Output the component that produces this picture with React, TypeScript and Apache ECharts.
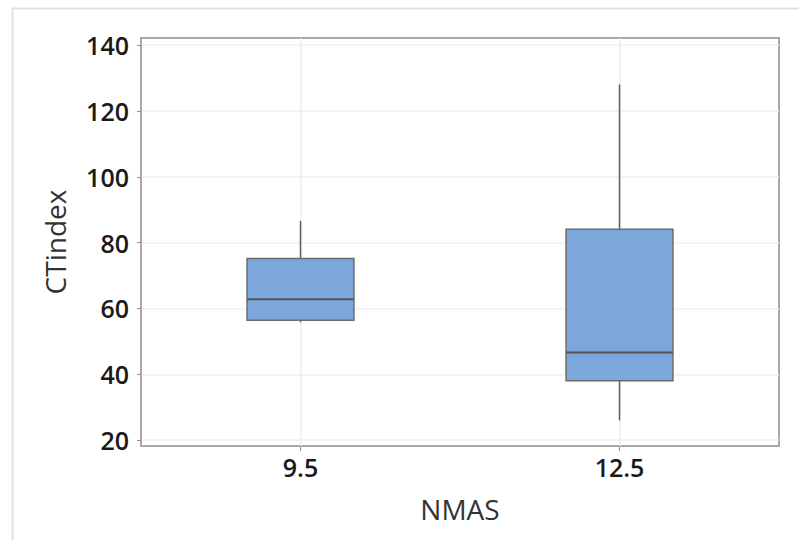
import React, { useEffect, useRef } from "react";
import * as echarts from "echarts";

const categories = ["9.5", "12.5"];
// [min, Q1, median, Q3, max]
const boxStats = [
  [55.8, 56.4, 62.8, 75.2, 86.6],
  [26.0, 38.0, 46.6, 84.1, 128.1],
];
const yTicks = [20, 40, 60, 80, 100, 120, 140];
const xTitle = "NMAS";
const yTitle = "CTindex";

export default function App() {
  const ref = useRef<HTMLDivElement>(null);
  useEffect(() => {
    if (!ref.current) return;
    const chart = echarts.init(ref.current, null, { renderer: "svg" });
    const font = "'Open Sans', 'Noto Sans', sans-serif";
    const data = boxStats.map((s, i) => [i, ...s]);
    chart.setOption({
      animation: false,
      backgroundColor: "#ffffff",
      graphic: [
        {
          type: "rect",
          left: 10,
          top: 6,
          shape: { x: 0, y: 0, width: 820, height: 600 },
          style: { fill: "none", stroke: "#e2e2e2", lineWidth: 2 },
          silent: true,
        },
      ],
      grid: {
        left: 141,
        top: 38,
        right: 20,
        bottom: 94,
        show: true,
        borderColor: "#a8a8a8",
        borderWidth: 2,
        backgroundColor: "transparent",
      },
      xAxis: {
        type: "category",
        data: categories,
        boundaryGap: true,
        name: xTitle,
        nameLocation: "middle",
        nameGap: 49,
        nameTextStyle: { fontFamily: font, fontSize: 28, color: "#333333" },
        axisLine: { show: true, lineStyle: { color: "#a8a8a8", width: 2 } },
        axisTick: { show: true, alignWithLabel: true, length: 5, lineStyle: { color: "#909090" } },
        axisLabel: { fontFamily: font, fontSize: 25, fontWeight: 600, color: "#1a1a1a", margin: 8 },
        splitLine: { show: false },
      },
      yAxis: {
        type: "value",
        min: 18.2,
        max: 142.2,
        name: yTitle,
        nameLocation: "middle",
        nameGap: 72,
        nameRotate: 90,
        nameTextStyle: { fontFamily: font, fontSize: 28, color: "#333333" },
        axisLine: { show: true, lineStyle: { color: "#a8a8a8", width: 2 } },
        axisTick: { show: true, length: 4, customValues: yTicks, lineStyle: { color: "#909090" } },
        axisLabel: {
          fontFamily: font,
          fontSize: 25,
          fontWeight: 600,
          color: "#1a1a1a",
          margin: 12,
          customValues: yTicks,
        },
        splitLine: { show: true, lineStyle: { color: "#f0f0f0", width: 1.5 } },
      },
      series: [
        {
          type: "custom",
          z: 3,
          data: data,
          encode: { x: 0, y: [1, 2, 3, 4, 5] },
          renderItem: (params: any, api: any) => {
            const idx = api.value(0);
            const pMin = api.coord([idx, api.value(1)]);
            const pQ1 = api.coord([idx, api.value(2)]);
            const pMed = api.coord([idx, api.value(3)]);
            const pQ3 = api.coord([idx, api.value(4)]);
            const pMax = api.coord([idx, api.value(5)]);
            const band = api.size([1, 0])[0];
            const w = band * 0.335;
            const cx = pMed[0];
            const lineStyle = { stroke: "#5f5f5f", lineWidth: 1.5 };
            return {
              type: "group",
              children: [
                {
                  type: "line",
                  shape: { x1: cx, y1: pQ3[1], x2: cx, y2: pMax[1] },
                  style: lineStyle,
                },
                {
                  type: "line",
                  shape: { x1: cx, y1: pQ1[1], x2: cx, y2: pMin[1] },
                  style: lineStyle,
                },
                {
                  type: "rect",
                  shape: { x: cx - w / 2, y: pQ3[1], width: w, height: pQ1[1] - pQ3[1] },
                  style: { fill: "#7ba7db", stroke: "#6b6b6b", lineWidth: 1.5 },
                },
                {
                  type: "line",
                  shape: { x1: cx - w / 2, y1: pMed[1], x2: cx + w / 2, y2: pMed[1] },
                  style: { stroke: "#555555", lineWidth: 2 },
                },
              ],
            };
          },
          markLine: {
            silent: true,
            z: 1,
            symbol: "none",
            label: { show: false },
            lineStyle: { color: "#ededed", width: 1.5, type: "solid" },
            data: categories.map((c) => ({ xAxis: c })),
          },
        },
      ],
    });
    return () => chart.dispose();
  }, []);
  return (
    <div
      ref={ref}
      style={{ position: "absolute", left: 0, top: 0, width: 799, height: 540 }}
    />
  );
}
